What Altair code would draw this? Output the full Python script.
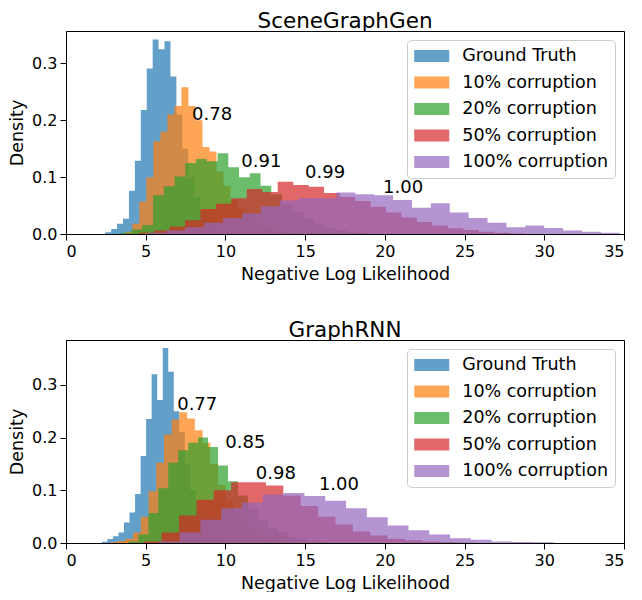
import altair as alt
import pandas as pd

SERIES = ["Ground Truth", "10% corruption", "20% corruption", "50% corruption", "100% corruption"]
COLORS = ["#1f77b4", "#ff7f0e", "#2ca02c", "#d62728", "#9467bd"]

# ---------------- SceneGraphGen (top) ----------------
# bin start, bin width, densities per series
sg_start = [2.46, 3.72, 3.44, 4.55, 5.11]
sg_width = [0.372, 0.44, 0.674, 0.97, 1.185]
sg_gt = [0.003, 0.009, 0.018, 0.027, 0.076, 0.129, 0.218, 0.291, 0.342, 0.325, 0.339, 0.277,
         0.21, 0.15, 0.10, 0.065, 0.04, 0.025, 0.015, 0.008, 0.004, 0.002]
sg_10 = [0.004, 0.018, 0.057, 0.10, 0.163, 0.18, 0.21, 0.225, 0.258, 0.225, 0.2, 0.153, 0.145,
         0.11, 0.085, 0.06, 0.045, 0.032, 0.022, 0.015, 0.01, 0.006, 0.004, 0.002]
sg_20 = [0.002, 0.008, 0.016, 0.068, 0.084, 0.101, 0.125, 0.132, 0.128, 0.142, 0.1175, 0.1, 0.107,
         0.085, 0.07, 0.052, 0.038, 0.026, 0.017, 0.011, 0.007, 0.004, 0.002]
sg_50 = [0.002, 0.006, 0.013, 0.024, 0.044, 0.053, 0.063, 0.079, 0.074, 0.092, 0.086, 0.083, 0.072,
         0.065, 0.058, 0.048, 0.038, 0.029, 0.021, 0.015, 0.01, 0.007, 0.004, 0.002, 0.001]
sg_100 = [0.002, 0.006, 0.012, 0.02, 0.028, 0.036, 0.049, 0.059, 0.063, 0.063, 0.073, 0.07, 0.068,
          0.06, 0.046, 0.054, 0.038, 0.028, 0.02, 0.012, 0.015, 0.0105, 0.006, 0.004, 0.002]
sg_ann_text = ["0.78", "0.91", "0.99", "1.00"]
sg_ann_x = [9.16, 12.25, 16.25, 21.14]
sg_ann_y = [0.209, 0.127, 0.108, 0.081]

# ---------------- GraphRNN (bottom) ----------------
gr_start = [2.25, 2.75, 3.92, 4.91, 5.82]
gr_width = [0.347, 0.485, 0.624, 1.09, 1.305]
gr_gt = [0.0025, 0.0076, 0.0127, 0.02, 0.039, 0.058, 0.093, 0.165, 0.235, 0.32, 0.271, 0.37, 0.325,
         0.25, 0.21, 0.15, 0.10, 0.065, 0.04, 0.025, 0.015, 0.008, 0.004, 0.002]
gr_10 = [0.002, 0.004, 0.008, 0.02, 0.05, 0.098, 0.152, 0.206, 0.234, 0.248, 0.236, 0.214,
         0.19, 0.15, 0.11, 0.08, 0.055, 0.035, 0.022, 0.014, 0.008, 0.005, 0.003, 0.002]
gr_20 = [0.003, 0.016, 0.057, 0.104, 0.152, 0.176, 0.19, 0.2, 0.182, 0.147, 0.117,
         0.09, 0.065, 0.045, 0.03, 0.02, 0.012, 0.007, 0.004, 0.002]
gr_50 = [0.003, 0.02, 0.052, 0.082, 0.1, 0.115, 0.115, 0.109, 0.09, 0.07, 0.05, 0.035, 0.022,
         0.014, 0.008, 0.005, 0.003, 0.002, 0.001]
gr_100 = [0.003, 0.02, 0.044, 0.066, 0.077, 0.092, 0.095, 0.089, 0.08, 0.066, 0.049, 0.033,
          0.024, 0.016, 0.009, 0.006, 0.003, 0.002, 0.0015]
gr_ann_text = ["0.77", "0.85", "0.98", "1.00"]
gr_ann_x = [8.23, 11.25, 13.16, 17.12]
gr_ann_y = [0.262, 0.19, 0.131, 0.110]

FONT = "DejaVu Sans"


def hist_df(starts, widths, dens_lists):
    rows = []
    for i, (s, w, d) in enumerate(zip(starts, widths, dens_lists)):
        for k, v in enumerate(d):
            rows.append({"series": SERIES[i], "x": round(s + k * w, 4), "density": v})
        rows.append({"series": SERIES[i], "x": round(s + len(d) * w, 4), "density": 0.0})
    return pd.DataFrame(rows)


def panel(title, df, ann_text, ann_x, ann_y, ymax):
    xenc = alt.X("x:Q", scale=alt.Scale(domain=[0, 35], nice=False, zero=False),
                 axis=alt.Axis(values=[0, 5, 10, 15, 20, 25, 30, 35], format="d",
                               title="Negative Log Likelihood"))
    yenc = alt.Y("density:Q", stack=None, scale=alt.Scale(domain=[0, ymax], nice=False),
                 axis=alt.Axis(values=[0, 0.1, 0.2, 0.3], format=".1f", title="Density"))
    layers = []
    for i, s in enumerate(SERIES):
        if i == 0:
            legend = alt.Legend(title=None, orient="top-right", offset=9, padding=7,
                                fillColor="rgba(255,255,255,0.8)", strokeColor="#cccccc",
                                cornerRadius=4, symbolType="M-2,-0.68H2V0.68H-2Z",
                                symbolSize=306.25, symbolOffset=8.75, symbolStrokeWidth=0,
                                symbolOpacity=0.7, labelFontSize=17.5, labelFont=FONT,
                                labelOffset=21.5, rowPadding=8.5, labelColor="black",
                                labelLimit=400)
        else:
            legend = None
        color = alt.Color("series:N", scale=alt.Scale(domain=SERIES, range=COLORS), legend=legend)
        layers.append(
            alt.Chart(df).transform_filter(alt.datum.series == s)
            .mark_area(interpolate="step-after", opacity=0.7)
            .encode(x=xenc, y=yenc, color=color)
        )
    ann = pd.DataFrame({"t": ann_text, "x": ann_x, "y": ann_y})
    text = alt.Chart(ann).mark_text(font=FONT, fontSize=18, color="black",
                                    align="center", baseline="middle").encode(
        x=alt.X("x:Q"), y=alt.Y("y:Q"), text="t:N")
    return alt.layer(*layers, text).properties(
        width=558, height=203,
        title=alt.TitleParams(title, fontSize=21.5, font=FONT, fontWeight="normal",
                              color="black", offset=-1))


top = panel("SceneGraphGen", hist_df(sg_start, sg_width, [sg_gt, sg_10, sg_20, sg_50, sg_100]),
            sg_ann_text, sg_ann_x, sg_ann_y, 0.357)
bottom = panel("GraphRNN", hist_df(gr_start, gr_width, [gr_gt, gr_10, gr_20, gr_50, gr_100]),
               gr_ann_text, gr_ann_x, gr_ann_y, 0.385)

chart = alt.vconcat(top, bottom, spacing=36).resolve_scale(color="independent").resolve_legend(
    color="independent").properties(
    padding={"left": 0, "top": 2, "right": 5, "bottom": 0}, background="white"
).configure_view(stroke="black", strokeWidth=1).configure_axis(
    domainColor="black", tickColor="black", tickSize=6, labelFontSize=16, labelFont=FONT,
    titleFontSize=17.5, titleFont=FONT, titleFontWeight="normal", labelColor="black",
    titleColor="black", grid=False, labelPadding=3
).configure_axisX(titlePadding=6).configure_axisY(titlePadding=5)

chart.save("out.html", embed_options={"renderer": "svg", "actions": False})
